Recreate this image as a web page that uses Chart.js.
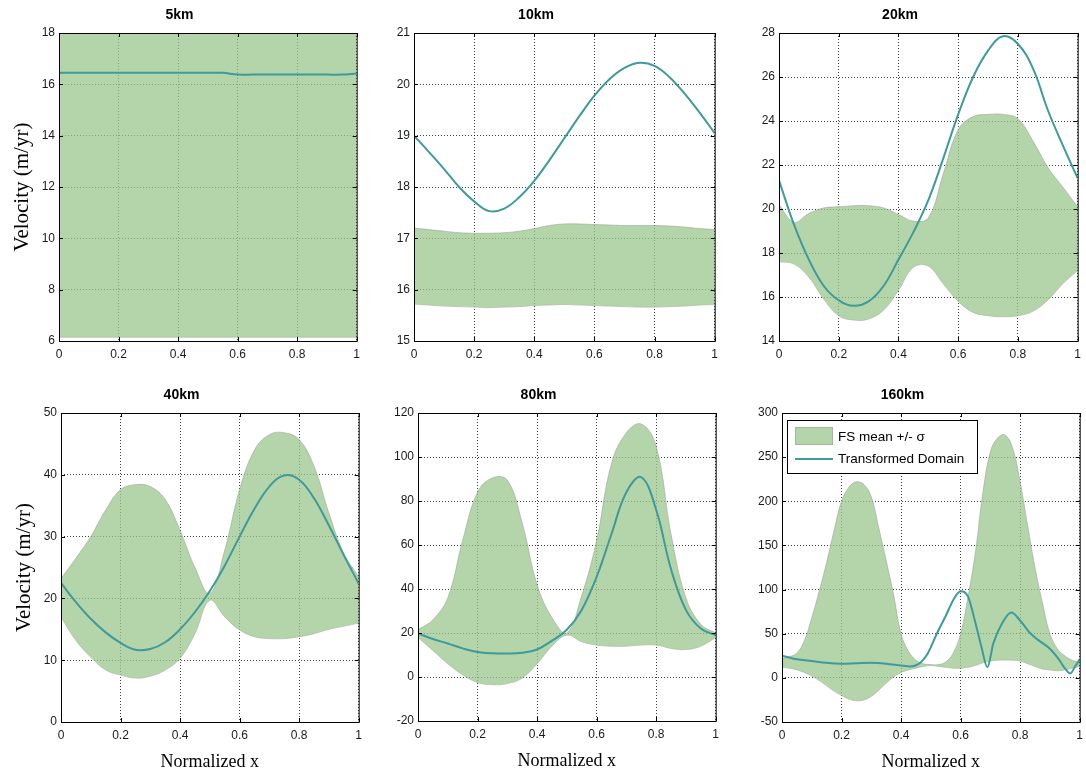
<!DOCTYPE html>
<html>
<head>
<meta charset="utf-8">
<script src="https://cdn.jsdelivr.net/npm/chart.js@4.4.1/dist/chart.umd.min.js"></script>
<style>
    html, body { margin: 0; padding: 0; background: #fff; }
    body { width: 1086px; height: 775px; position: relative; overflow: hidden; }
    canvas { position: absolute; }
</style>
</head>
<body>
<script>
// --- Dati ---
const xGrid = [0, 0.05, 0.1, 0.15, 0.2, 0.25, 0.3, 0.35, 0.4, 0.45, 0.5,
               0.55, 0.6, 0.65, 0.7, 0.75, 0.8, 0.85, 0.9, 0.95, 1];
const xFine = [0, 0.025, 0.05, 0.075, 0.1, 0.125, 0.15, 0.175, 0.2, 0.225, 0.25,
               0.275, 0.3, 0.325, 0.35, 0.375, 0.4, 0.425, 0.45, 0.475, 0.5,
               0.525, 0.55, 0.575, 0.6, 0.625, 0.65, 0.675, 0.7, 0.725, 0.75,
               0.775, 0.8, 0.825, 0.85, 0.875, 0.9, 0.925, 0.95, 0.975, 1];
const xTicks = [0, 0.2, 0.4, 0.6, 0.8, 1];

// 5km
const upper5 = [19, 19, 19, 19, 19, 19, 19, 19, 19, 19, 19, 19, 19, 19, 19, 19, 19, 19, 19, 19, 19];
const lower5 = [6.15, 6.15, 6.15, 6.15, 6.15, 6.15, 6.15, 6.15, 6.15, 6.15, 6.15,
                6.15, 6.15, 6.15, 6.15, 6.15, 6.15, 6.15, 6.15, 6.15, 6.15];
const line5 = [16.45, 16.45, 16.45, 16.45, 16.45, 16.45, 16.45, 16.45, 16.45, 16.45, 16.45,
               16.45, 16.38, 16.38, 16.38, 16.38, 16.38, 16.38, 16.38, 16.38, 16.42];

// 10km
const upper10 = [17.2, 17.17, 17.14, 17.11, 17.1, 17.1, 17.11, 17.14, 17.19, 17.25, 17.28,
                 17.28, 17.27, 17.26, 17.25, 17.25, 17.25, 17.24, 17.22, 17.19, 17.17];
const lower10 = [15.72, 15.7, 15.68, 15.67, 15.66, 15.65, 15.66, 15.67, 15.69, 15.7, 15.71,
                 15.7, 15.69, 15.68, 15.67, 15.66, 15.66, 15.67, 15.68, 15.7, 15.71];
const line10 = [19.0, 18.68, 18.35, 18.0, 17.72, 17.53, 17.58, 17.8, 18.12, 18.52, 18.95,
                19.38, 19.78, 20.1, 20.32, 20.42, 20.36, 20.14, 19.82, 19.45, 19.05];

// 20km
const upper20 = [20.2, 19.4, 19.8, 20.05, 20.1, 20.15, 20.15, 20.05, 19.75, 19.45, 19.6,
                 21.6, 23.6, 24.2, 24.3, 24.3, 24.1, 23.1, 21.9, 21.0, 20.1];
const lower20 = [17.6, 17.5, 16.9, 15.9, 15.15, 14.95, 15.0, 15.4, 16.3, 17.35, 17.4,
                 16.6, 15.8, 15.3, 15.15, 15.1, 15.15, 15.35, 15.85, 16.6, 17.2];
const line20 = [21.3, 19.3, 17.7, 16.5, 15.85, 15.6, 15.8, 16.5, 17.7, 18.95, 20.4,
                22.3, 24.3, 26.0, 27.2, 27.85, 27.5, 26.4, 24.5, 22.9, 21.4];

// 40km
const upper40 = [23.2, 26.5, 30.0, 34.3, 37.6, 38.4, 38.1, 36.0, 31.0, 25.0, 20.8,
                 27.8, 37.6, 44.0, 46.5, 46.8, 45.7, 41.4, 33.8, 27.3, 23.5];
const lower40 = [17.0, 13.2, 10.5, 8.4, 7.6, 7.1, 7.4, 8.4, 10.3, 14.3, 19.7,
                 17.0, 14.9, 13.8, 13.5, 13.5, 13.8, 14.3, 15.0, 15.5, 16.0];
const line40 = [22.5, 19.4, 16.7, 14.5, 12.8, 11.7, 11.8, 12.9, 15.0, 17.8, 21.2,
                25.3, 30.0, 34.5, 38.1, 39.9, 39.2, 36.2, 31.8, 27.0, 22.4];

// 80km
const upper80 = [21.5, 26, 36, 62, 84, 90.5, 89.5, 70, 42, 27, 20,
                 37, 62, 97, 111, 115, 105, 65, 36, 24, 20];
const lower80 = [18, 12, 6, 1, -2.5, -3.5, -3, -0.5, 6, 14, 19,
                 16, 14.5, 14, 14, 14.5, 14.5, 13, 12.5, 14, 18];
const line80 = [19.8, 17.3, 15.2, 13.0, 11.4, 10.8, 10.7, 11.0, 12.5, 16.5, 21.5,
                30.5, 45.5, 65.0, 84.0, 90.8, 76.0, 49.0, 30.5, 22.0, 19.0];

// 160km
const upper160 = [22, 24, 28, 42, 68, 98, 131, 167, 200, 216, 222,
                  219, 205, 170, 133, 94, 50, 30, 20, 16, 15,
                  15, 18, 28, 50, 92, 143, 210, 256, 272, 275,
                  260, 222, 173, 125, 85, 50, 33, 25, 20, 18];
const lower160 = [12, 11, 9, 6, 2, -3, -9, -15, -20, -24, -26,
                  -25, -21, -14, -6, 1, 6, 9, 11, 13, 14,
                  13, 12, 11, 11, 12, 14, 17, 19, 20, 20,
                  20, 19, 16, 13, 10, 9, 8, 9, 11, 13];
const line160X = [0, 0.05, 0.1, 0.15, 0.2, 0.25, 0.3, 0.35, 0.4, 0.43,
                  0.46, 0.49, 0.52, 0.55, 0.575, 0.6, 0.625, 0.65, 0.67, 0.69,
                  0.71, 0.74, 0.77, 0.8, 0.83, 0.86, 0.9, 0.93, 0.95, 0.968,
                  0.985, 1];
const line160Y = [25, 21, 19, 17, 16, 16.5, 17, 16, 14, 13,
                  16, 28, 50, 70, 88, 98, 92, 62, 35, 12,
                  39, 62, 74, 65, 52, 43, 33, 21, 11, 5,
                  13, 21];

const seriesLabels = ['FS mean +/- \u03c3', 'Transformed Domain'];

// --- Stili ---
const FONT_SANS = '"Liberation Sans", Arial, sans-serif';
const FONT_SERIF = '"Liberation Serif", "Times New Roman", serif';
const BAND_FILL = 'rgba(155,198,142,0.75)';
const BAND_EDGE = 'rgba(150,160,150,0.55)';
const LINE_COLOR = '#3d9b9b';
const TICK_COLOR = '#1a1a1a';

const toPoints = (xs, ys) => xs.map((x, i) => ({ x: x, y: ys[i] }));

// Riquadro completo + tacche interne (stile MATLAB)
const framePlugin = {
    id: 'frame',
    afterDraw(chart) {
        const { ctx, chartArea: a, scales } = chart;
        ctx.save();
        ctx.strokeStyle = '#000';
        ctx.lineWidth = 1;
        ctx.beginPath();
        scales.x.ticks.forEach(t => {
            const px = Math.round(scales.x.getPixelForValue(t.value)) + 0.5;
            ctx.moveTo(px, a.bottom); ctx.lineTo(px, a.bottom - 4);
            ctx.moveTo(px, a.top); ctx.lineTo(px, a.top + 4);
        });
        scales.y.ticks.forEach(t => {
            const py = Math.round(scales.y.getPixelForValue(t.value)) + 0.5;
            ctx.moveTo(a.left, py); ctx.lineTo(a.left + 4, py);
            ctx.moveTo(a.right, py); ctx.lineTo(a.right - 4, py);
        });
        ctx.stroke();
        ctx.strokeRect(a.left + 0.5, a.top + 0.5, a.right - a.left, a.bottom - a.top);
        ctx.restore();
    }
};

// Legenda dentro l'area del grafico (solo 160km)
const boxLegendPlugin = {
    id: 'boxLegend',
    afterDraw(chart, args, opts) {
        if (!opts.display) return;
        const { ctx, chartArea: a } = chart;
        const x0 = a.left + 5, y0 = a.top + 7;
        ctx.save();
        ctx.fillStyle = '#fff';
        ctx.fillRect(x0, y0, 191, 54);
        ctx.strokeStyle = '#000';
        ctx.lineWidth = 1;
        ctx.strokeRect(x0 + 0.5, y0 + 0.5, 190, 53);

        ctx.fillStyle = BAND_FILL;
        ctx.fillRect(x0 + 8, y0 + 7, 38, 18);
        ctx.strokeStyle = BAND_EDGE;
        ctx.strokeRect(x0 + 8.5, y0 + 7.5, 37, 17);

        ctx.strokeStyle = LINE_COLOR;
        ctx.lineWidth = 2;
        ctx.beginPath();
        ctx.moveTo(x0 + 8, y0 + 39);
        ctx.lineTo(x0 + 46, y0 + 39);
        ctx.stroke();

        ctx.fillStyle = '#000';
        ctx.font = '13.5px ' + FONT_SANS;
        ctx.textBaseline = 'middle';
        ctx.fillText(seriesLabels[0], x0 + 51, y0 + 17);
        ctx.fillText(seriesLabels[1], x0 + 51, y0 + 39);
        ctx.restore();
    }
};

// --- Pannelli ---
const panels = [
    { title: '5km',   xs: xGrid, up: upper5,   lo: lower5,   lx: xGrid,    ly: line5,    min: 6,   max: 18,  step: 2,  rect: [59, 33, 360, 341],   yTitle: true,  xTitle: false },
    { title: '10km',  xs: xGrid, up: upper10,  lo: lower10,  lx: xGrid,    ly: line10,   min: 15,  max: 21,  step: 1,  rect: [414, 33, 718, 341],  yTitle: false, xTitle: false },
    { title: '20km',  xs: xGrid, up: upper20,  lo: lower20,  lx: xGrid,    ly: line20,   min: 14,  max: 28,  step: 2,  rect: [779, 33, 1081, 341], yTitle: false, xTitle: false },
    { title: '40km',  xs: xGrid, up: upper40,  lo: lower40,  lx: xGrid,    ly: line40,   min: 0,   max: 50,  step: 10, rect: [61, 413, 362, 722],  yTitle: true,  xTitle: true },
    { title: '80km',  xs: xGrid, up: upper80,  lo: lower80,  lx: xGrid,    ly: line80,   min: -20, max: 120, step: 20, rect: [418, 413, 719, 721], yTitle: false, xTitle: true },
    { title: '160km', xs: xFine, up: upper160, lo: lower160, lx: line160X, ly: line160Y, min: -50, max: 300, step: 50, rect: [782, 413, 1083, 722], yTitle: false, xTitle: true, legend: true, sharpLine: true }
];

const Y_AXIS_W = 60;
const RIGHT_PAD = 6;

panels.forEach(p => {
    const [l, t, r, b] = p.rect;
    const xAxisH = p.xTitle ? 53 : 39;
    const canvas = document.createElement('canvas');
    canvas.width = r - l + Y_AXIS_W + RIGHT_PAD;
    canvas.height = b - t + 33 + xAxisH;
    canvas.style.left = (l - Y_AXIS_W) + 'px';
    canvas.style.top = (t - 33) + 'px';
    document.body.appendChild(canvas);

    const lineCfg = {
        label: seriesLabels[1],
        data: toPoints(p.lx, p.ly),
        borderColor: LINE_COLOR,
        borderWidth: 2,
        pointRadius: 0,
        fill: false
    };
    if (p.sharpLine) {
        lineCfg.cubicInterpolationMode = 'monotone';
    } else {
        lineCfg.tension = 0.4;
    }

    new Chart(canvas.getContext('2d'), {
        type: 'line',
        data: {
            datasets: [
                lineCfg,
                {
                    label: seriesLabels[0],
                    data: toPoints(p.xs, p.up),
                    borderColor: BAND_EDGE,
                    backgroundColor: BAND_FILL,
                    borderWidth: 1,
                    pointRadius: 0,
                    fill: '+1',
                    tension: 0.4
                },
                {
                    label: 'lower',
                    data: toPoints(p.xs, p.lo),
                    borderColor: BAND_EDGE,
                    borderWidth: 1,
                    pointRadius: 0,
                    fill: false,
                    tension: 0.4
                }
            ]
        },
        options: {
            responsive: false,
            animation: false,
            devicePixelRatio: 1,
            layout: { padding: { left: 0, right: RIGHT_PAD, top: 0, bottom: 0 } },
            plugins: {
                legend: { display: false },
                tooltip: { enabled: false },
                title: {
                    display: true,
                    text: p.title,
                    color: '#000',
                    font: { family: FONT_SANS, size: 14, weight: 'bold', lineHeight: 1 },
                    padding: { top: 8, bottom: 11 }
                },
                boxLegend: { display: !!p.legend }
            },
            scales: {
                x: {
                    type: 'linear',
                    min: 0,
                    max: 1,
                    afterBuildTicks: (axis) => { axis.ticks = xTicks.map(v => ({ value: v })); },
                    afterFit: (axis) => { axis.height = xAxisH; },
                    grid: { color: 'rgba(0,0,0,0.75)', drawTicks: false, lineWidth: 1 },
                    border: { display: false, dash: [1, 2] },
                    ticks: {
                        padding: 6,
                        color: TICK_COLOR,
                        font: { family: FONT_SANS, size: 12 },
                        callback: (v) => String(Math.round(v * 10) / 10)
                    },
                    title: {
                        display: p.xTitle,
                        text: 'Normalized x',
                        color: '#000',
                        font: { family: FONT_SERIF, size: 18, lineHeight: 1 },
                        padding: { top: 0, bottom: 4 }
                    }
                },
                y: {
                    min: p.min,
                    max: p.max,
                    afterFit: (axis) => { axis.width = Y_AXIS_W; },
                    grid: { color: 'rgba(0,0,0,0.75)', drawTicks: false, lineWidth: 1 },
                    border: { display: false, dash: [1, 2] },
                    ticks: { stepSize: p.step, padding: 4, color: TICK_COLOR, font: { family: FONT_SANS, size: 12 } },
                    title: {
                        display: p.yTitle,
                        text: 'Velocity (m/yr)',
                        color: '#000',
                        font: { family: FONT_SERIF, size: 21, lineHeight: 1 },
                        padding: { top: 13, bottom: 0 }
                    }
                }
            }
        },
        plugins: [framePlugin, boxLegendPlugin]
    });
});
</script>
</body>
</html>
